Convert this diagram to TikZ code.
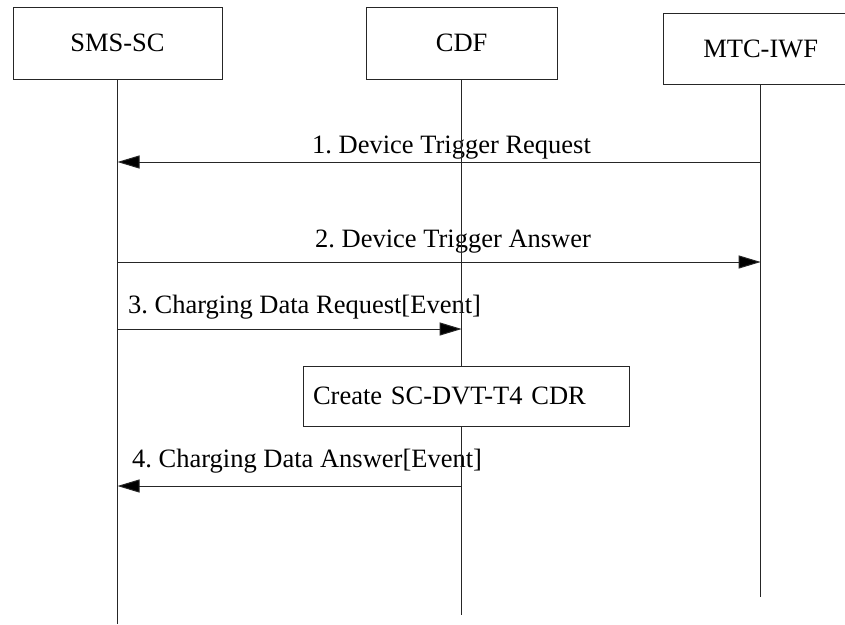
\documentclass[tikz,border=0pt]{standalone}
\usepackage{fontspec}
\setmainfont{Liberation Serif}
\usetikzlibrary{arrows.meta}
\frenchspacing
\begin{document}
\begin{tikzpicture}[x=1pt,y=-1pt,
  txt/.style={font=\fontsize{26.5}{30}\selectfont, inner sep=0pt},
  entity/.style={draw=black!85, line width=1pt, fill=white, txt},
  life/.style={draw=black!85, line width=1pt},
  msg/.style={draw=black!85, line width=1pt, -{Triangle[length=22pt,width=13pt,fill=black]}},
  lbl/.style={txt, anchor=base west}]
\useasboundingbox (0,0) rectangle (845,624);
\clip (0,0) rectangle (845,624);
% entities
\node[entity, minimum width=209pt, minimum height=72pt] (sms) at (117.5,43) {SMS-SC};
\node[entity, minimum width=191pt, minimum height=72pt] (cdf) at (461.7,43) {CDF};
\node[entity, minimum width=195pt, minimum height=71pt] (mtc) at (760.7,48.5) {MTC-IWF};
% lifeline ends
\coordinate (smsend) at (sms.south |- 0,624);
\coordinate (cdfend) at (cdf.south |- 0,615);
\coordinate (mtcend) at (mtc.south |- 0,597);
% message labels
\node[lbl] (l1) at (312,153) {1. Device Trigger Request};
\node[lbl] (l2) at (315,247) {2. Device Trigger Answer};
\node[lbl] (l3) at (128,313) {3. Charging Data Request[Event]};
\node[lbl] (l4) at (132,467) {4. Charging Data Answer[Event]};
% lifelines
\draw[life] (sms.south) -- (smsend);
\draw[life] (cdf.south) -- (cdfend);
\draw[life] (mtc.south) -- (mtcend);
% message anchor points
\coordinate (s1) at (sms.south |- 0,162);
\coordinate (m1) at (mtc.south |- 0,162);
\coordinate (s2) at (sms.south |- 0,262);
\coordinate (m2) at (mtc.south |- 0,262);
\coordinate (s3) at (sms.south |- 0,329);
\coordinate (c3) at (cdf.south |- 0,329);
\coordinate (s4) at (sms.south |- 0,486);
\coordinate (c4) at (cdf.south |- 0,486);
% messages
\draw[msg] (m1) -- (s1);
\draw[msg] (s2) -- (m2);
\draw[msg] (s3) -- (c3);
\draw[msg] (c4) -- (s4);
% action box
\node[entity, minimum height=60pt, text width=306pt, inner xsep=10pt, align=left] (cdr) at (466,396) {Create SC-DVT-T4 CDR};
\end{tikzpicture}
\end{document}
